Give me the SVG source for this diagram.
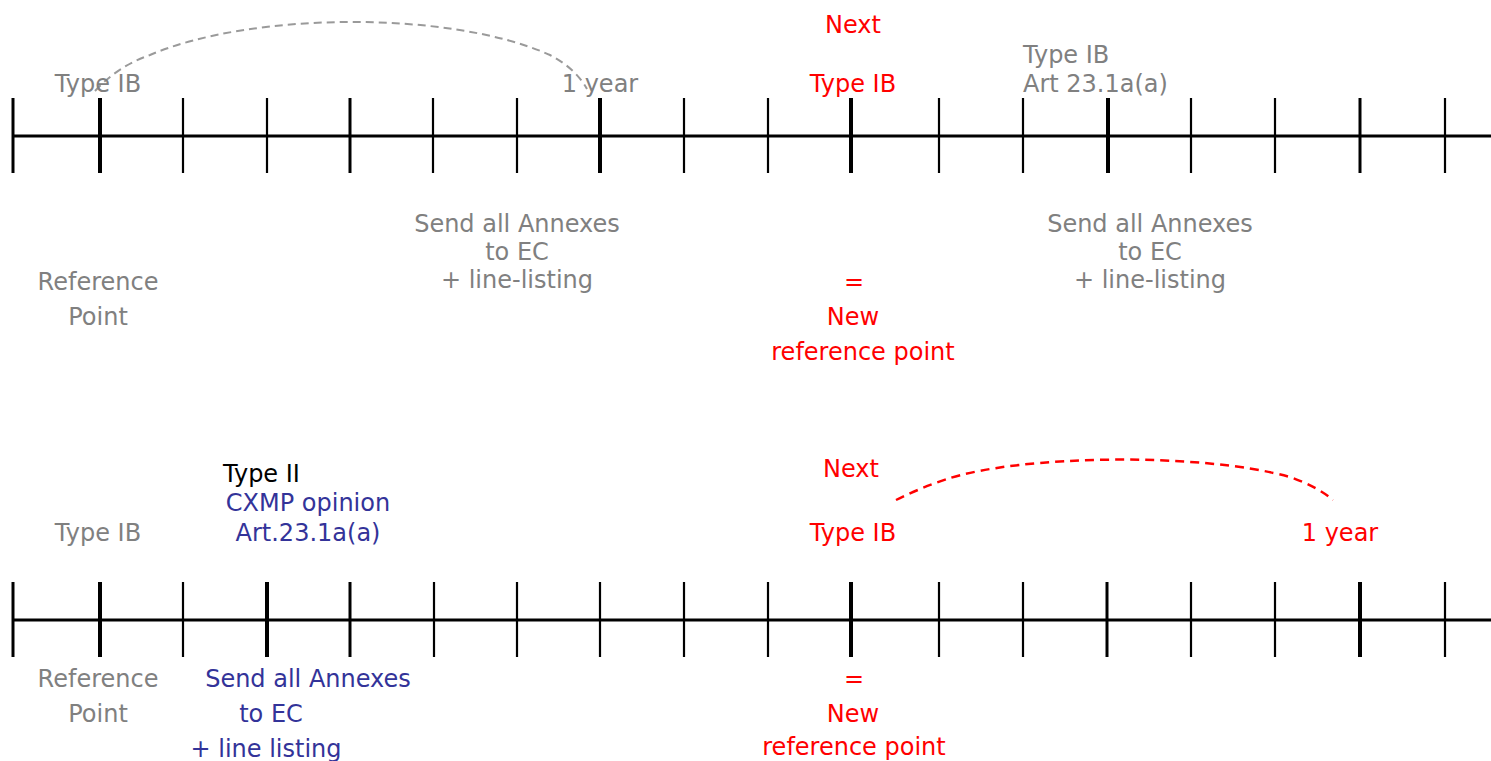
<svg xmlns="http://www.w3.org/2000/svg" width="1491" height="761" viewBox="0 0 1491 761">
<style>
text{font-family:"DejaVu Sans","Liberation Sans",sans-serif;font-size:24px}
.g{fill:#808080}.r{fill:#ff0000}.b{fill:#333399}.k{fill:#000}
.m{text-anchor:middle}
.axis{stroke:#000;stroke-width:3.2;fill:none}
.t1{stroke:#000;stroke-width:2.2}
.t2{stroke:#000;stroke-width:3}
.t3{stroke:#000;stroke-width:4}
.arcg{fill:none;stroke:#9a9a9a;stroke-width:2;stroke-dasharray:8 5}
.arcr{fill:none;stroke:#ff0000;stroke-width:2.5;stroke-dasharray:9 6}
</style>
<rect width="1491" height="761" fill="#fff"/>
<g id="timeline-top">
<line class="axis" x1="12" y1="136" x2="1491" y2="136"/>
<g transform="translate(0,98)">
<line class="t2" x1="13" y1="0" x2="13" y2="75"/>
<line class="t3" x1="100" y1="0" x2="100" y2="75"/>
<line class="t1" x1="183" y1="0" x2="183" y2="75"/>
<line class="t1" x1="267" y1="0" x2="267" y2="75"/>
<line class="t2" x1="350" y1="0" x2="350" y2="75"/>
<line class="t1" x1="433" y1="0" x2="433" y2="75"/>
<line class="t1" x1="517" y1="0" x2="517" y2="75"/>
<line class="t3" x1="600" y1="0" x2="600" y2="75"/>
<line class="t1" x1="684" y1="0" x2="684" y2="75"/>
<line class="t1" x1="768" y1="0" x2="768" y2="75"/>
<line class="t3" x1="851" y1="0" x2="851" y2="75"/>
<line class="t1" x1="939" y1="0" x2="939" y2="75"/>
<line class="t1" x1="1023" y1="0" x2="1023" y2="75"/>
<line class="t3" x1="1108" y1="0" x2="1108" y2="75"/>
<line class="t1" x1="1191" y1="0" x2="1191" y2="75"/>
<line class="t1" x1="1275" y1="0" x2="1275" y2="75"/>
<line class="t2" x1="1360" y1="0" x2="1360" y2="75"/>
<line class="t1" x1="1445" y1="0" x2="1445" y2="75"/>
</g>
</g>
<g id="timeline-bottom">
<line class="axis" x1="12" y1="620" x2="1491" y2="620"/>
<g transform="translate(0,582)">
<line class="t2" x1="13" y1="0" x2="13" y2="75"/>
<line class="t3" x1="100" y1="0" x2="100" y2="75"/>
<line class="t1" x1="183" y1="0" x2="183" y2="75"/>
<line class="t3" x1="267" y1="0" x2="267" y2="75"/>
<line class="t2" x1="350" y1="0" x2="350" y2="75"/>
<line class="t1" x1="434" y1="0" x2="434" y2="75"/>
<line class="t1" x1="517" y1="0" x2="517" y2="75"/>
<line class="t1" x1="600" y1="0" x2="600" y2="75"/>
<line class="t1" x1="684" y1="0" x2="684" y2="75"/>
<line class="t1" x1="768" y1="0" x2="768" y2="75"/>
<line class="t3" x1="851" y1="0" x2="851" y2="75"/>
<line class="t1" x1="939" y1="0" x2="939" y2="75"/>
<line class="t1" x1="1023" y1="0" x2="1023" y2="75"/>
<line class="t2" x1="1107" y1="0" x2="1107" y2="75"/>
<line class="t1" x1="1191" y1="0" x2="1191" y2="75"/>
<line class="t1" x1="1275" y1="0" x2="1275" y2="75"/>
<line class="t3" x1="1360" y1="0" x2="1360" y2="75"/>
<line class="t1" x1="1445" y1="0" x2="1445" y2="75"/>
</g>
</g>
<g id="connectors">
<path class="arcg" d="M 95 91 Q 118 66 150 55 C 250 12, 450 10, 550 55 Q 575 68 587 89"/>
<path class="arcr" d="M 896 500 Q 920 488 947 479 C 1020 455, 1200 452, 1290 477 Q 1318 487 1333 500"/>
</g>
<g id="top-typeib"><text class="g m" x="98" y="92">Type IB</text></g>
<g id="top-1year"><text class="g m" x="600" y="92">1 year</text></g>
<g id="top-next"><text class="r m" x="853" y="33">Next</text><text class="r m" x="853" y="92">Type IB</text></g>
<g id="top-art"><text class="g" x="1023" y="63">Type IB</text><text class="g" x="1023" y="92">Art 23.1a(a)</text></g>
<g id="top-send1"><text class="g m" x="517" y="232">Send all Annexes</text><text class="g m" x="517" y="260">to EC</text><text class="g m" x="517" y="288">+ line-listing</text></g>
<g id="top-send2"><text class="g m" x="1150" y="232">Send all Annexes</text><text class="g m" x="1150" y="260">to EC</text><text class="g m" x="1150" y="288">+ line-listing</text></g>
<g id="top-ref"><text class="g m" x="98" y="290">Reference</text><text class="g m" x="98" y="325">Point</text></g>
<g id="top-newref"><text class="r m" x="854" y="290">=</text><text class="r m" x="853" y="325">New</text><text class="r m" x="863" y="360">reference point</text></g>
<g id="bot-typeii"><text class="k" x="223" y="482">Type II</text><text class="b m" x="308" y="511">CXMP opinion</text><text class="b m" x="308" y="541">Art.23.1a(a)</text></g>
<g id="bot-typeib"><text class="g m" x="98" y="541">Type IB</text></g>
<g id="bot-ref"><text class="g m" x="98" y="687">Reference</text><text class="g m" x="98" y="722">Point</text></g>
<g id="bot-send"><text class="b m" x="308" y="687">Send all Annexes</text><text class="b m" x="271" y="722">to EC</text><text class="b m" x="266" y="757">+ line listing</text></g>
<g id="bot-next"><text class="r m" x="851" y="477">Next</text><text class="r m" x="853" y="541">Type IB</text></g>
<g id="bot-1year"><text class="r m" x="1340" y="541">1 year</text></g>
<g id="bot-newref"><text class="r m" x="854" y="687">=</text><text class="r m" x="853" y="722">New</text><text class="r m" x="854" y="755">reference point</text></g>
</svg>
